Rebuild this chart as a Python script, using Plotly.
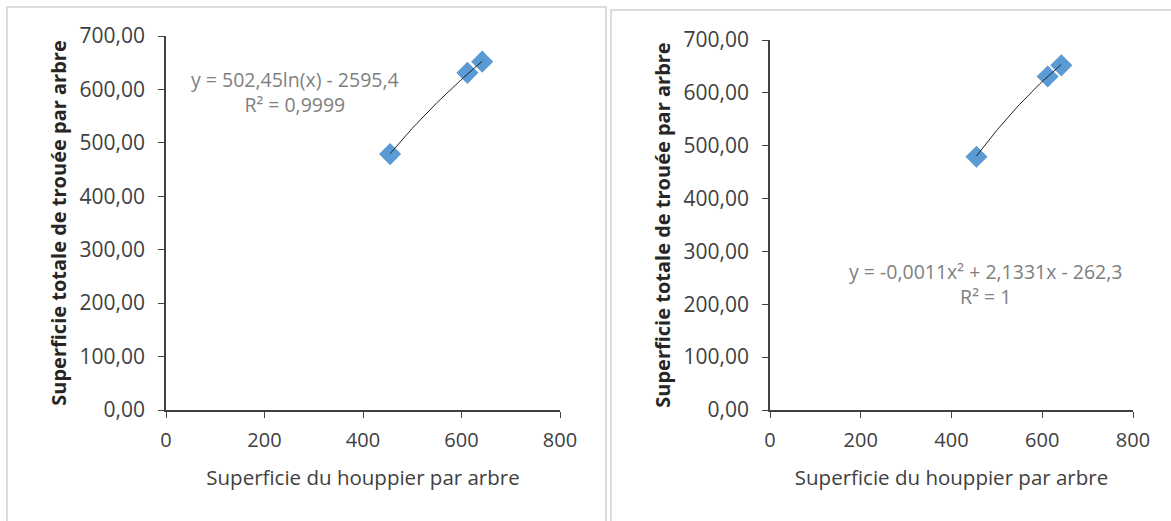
import numpy as np
import plotly.graph_objects as go

# Data
x_vals = [455, 612, 642]
y_vals = [479, 631, 652]
x_ticks = [0, 200, 400, 600, 800]
y_ticks = [0, 100, 200, 300, 400, 500, 600, 700]
y_tick_text = ["0,00", "100,00", "200,00", "300,00", "400,00", "500,00", "600,00", "700,00"]
log_coef = [502.45, -2595.4]
poly_coef = [-0.0011, 2.1331, -262.3]
eq_left = ["y = 502,45ln(x) - 2595,4", "R² = 0,9999"]
eq_right = ["y = -0,0011x² + 2,1331x - 262,3", "R² = 1"]
x_title = "Superficie du houppier par arbre"
y_title = "Superficie totale de trouée par arbre"

W, H = 1171, 521
FONT = "Open Sans"
marker_color = "#5B9BD5"

xs = np.linspace(min(x_vals), max(x_vals), 60)
fit_log = log_coef[0] * np.log(xs) + log_coef[1]
fit_poly = poly_coef[0] * xs**2 + poly_coef[1] * xs + poly_coef[2]

fig = go.Figure()
for xa, ya, fit in [("x", "y", fit_log), ("x2", "y2", fit_poly)]:
    fig.add_trace(go.Scatter(x=x_vals, y=y_vals, mode="markers", xaxis=xa, yaxis=ya,
                             marker=dict(symbol="diamond", size=17, color=marker_color),
                             showlegend=False))
    fig.add_trace(go.Scatter(x=xs, y=fit, mode="lines", xaxis=xa, yaxis=ya,
                             line=dict(color="#222222", width=1), showlegend=False))

def px(v):
    return v / W

def py(v):
    return 1 - v / H

axis_common = dict(showgrid=False, zeroline=False, showline=True, linecolor="#404040",
                   linewidth=1.5, ticks="outside", ticklen=6, tickcolor="#404040",
                   automargin=False)
xtick_font = dict(family=FONT, size=20, color="#404040")
ytick_font = dict(family=FONT, size=21, color="#404040")
xtitle_font = dict(family=FONT, size=20.5, color="#404040")
ytitle_font = dict(family=FONT, size=20, color="#262626", weight="bold")
eq_font = dict(family=FONT, size=19.5, color="#7f7f7f")

fig.update_layout(
    width=W, height=H, margin=dict(l=0, r=0, t=0, b=0, autoexpand=False),
    paper_bgcolor="white", plot_bgcolor="white",
    xaxis=dict(domain=[px(166), px(560)], range=[0, 800], tickvals=x_ticks, anchor="y",
               tickfont=xtick_font, ticklabelstandoff=5,
               title=dict(text=x_title, font=xtitle_font, standoff=19),
               **axis_common),
    yaxis=dict(domain=[py(410), py(36)], range=[0, 700], tickvals=y_ticks, ticktext=y_tick_text,
               anchor="x", tickfont=ytick_font, ticklabelstandoff=9,
               title=dict(text=y_title, font=ytitle_font, standoff=8),
               **axis_common),
    xaxis2=dict(domain=[px(770), px(1133)], range=[0, 800], tickvals=x_ticks, anchor="y2",
                tickfont=xtick_font, ticklabelstandoff=5,
                title=dict(text=x_title, font=xtitle_font, standoff=19),
                **axis_common),
    yaxis2=dict(domain=[py(410), py(40)], range=[0, 700], tickvals=y_ticks, ticktext=y_tick_text,
                anchor="x2", tickfont=ytick_font, ticklabelstandoff=9,
                title=dict(text=y_title, font=ytitle_font, standoff=8),
                **axis_common),
    shapes=[
        dict(type="rect", xref="paper", yref="paper", x0=px(7), x1=px(606), y0=-0.05, y1=py(7),
             line=dict(color="#dcdcdc", width=2), layer="below"),
        dict(type="rect", xref="paper", yref="paper", x0=px(611), x1=1.05, y0=-0.05, y1=py(10),
             line=dict(color="#dcdcdc", width=2), layer="below"),
    ],
    annotations=[
        dict(text=eq_left[0] + "<br>" + eq_left[1], xref="x", yref="y", x=262, y=596,
             showarrow=False, align="center", font=eq_font),
        dict(text=eq_right[0] + "<br>" + eq_right[1], xref="x2", yref="y2", x=474, y=238,
             showarrow=False, align="center", font=eq_font),
    ],
)

fig.write_html("out.html", config={"displayModeBar": False},
               post_script="document.body.style.margin='0';document.body.style.overflow='hidden';")
